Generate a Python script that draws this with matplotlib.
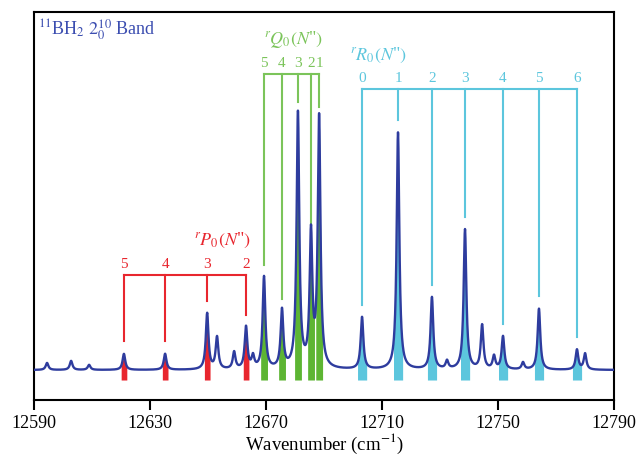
import numpy as np
import matplotlib
matplotlib.use('Agg')
import matplotlib.pyplot as plt

plt.rcParams['font.family'] = ['Liberation Serif', 'DejaVu Serif']
plt.rcParams['mathtext.fontset'] = 'stix'

# assigned lines: position (cm-1), peak height above baseline
p_labels = ['5', '4', '3', '2']
p_pos = [12621.0, 12635.2, 12649.7, 12663.1]
p_amp = [16, 16, 56, 42]

q_labels = ['5', '4', '3', '2', '1']
q_pos = [12669.3, 12675.5, 12681.0, 12685.5, 12688.3]
q_amp = [92, 58, 255, 132, 250]

r_labels = ['0', '1', '2', '3', '4', '5', '6']
r_pos = [12703.1, 12715.5, 12727.2, 12738.6, 12751.7, 12764.1, 12777.2]
r_amp = [52, 237, 72, 140, 33, 61, 20]

# unassigned features
other_pos = [12594.5, 12602.8, 12609.0, 12653.1, 12659.0, 12665.5, 12732.4,
             12744.5, 12748.6, 12758.6, 12780.0]
other_amp = [7, 9, 5, 32, 17, 12, 8, 44, 13, 7, 16]

baseline = 30
floor = 20
gap = 13


def spectrum(x):
    y = np.full_like(x, baseline, dtype=float)
    pos = p_pos + q_pos + r_pos + other_pos
    amp = p_amp + q_amp + r_amp + other_amp
    for c, a in zip(pos, amp):
        y += a / (1 + ((x - c) / 0.55) ** 2)
    return y


x = np.arange(12590, 12790.01, 0.05)
y = spectrum(x)

fig = plt.figure(figsize=(6.39, 4.59), dpi=100)
ax = fig.add_axes([0.0532, 0.1285, 0.9078, 0.8455])

red = '#E8262E'
green_line = '#7BC45A'
green_fill = '#5DB533'
cyan = '#5CC6DD'
blue = '#2E3C9E'


def branch(pos, amp, labels, line_c, fill_c, hw, top, title, tx, ty, ha):
    for c in pos:
        m = (x >= c - hw) & (x <= c + hw)
        ax.fill_between(x[m], floor, y[m], color=fill_c, lw=0, zorder=2)
    for c, a, lab in zip(pos, amp, labels):
        ax.plot([c, c], [top, baseline + a + gap], color=line_c, lw=1.5, zorder=1)
        ax.text(c, top + 4, lab, color=line_c, ha='center', va='bottom', fontsize=11)
    ax.plot([pos[0], pos[-1]], [top, top], color=line_c, lw=1.5, zorder=1)
    ax.text(tx, ty, title, color=line_c, ha=ha, va='center', fontsize=13)


branch(p_pos, p_amp, p_labels, red, red, 1.0, 125,
       r'$^{r}P_{0}(N$"$)$', 12654.8, 160, 'center')
branch(q_pos, q_amp, q_labels, green_line, green_fill, 1.2, 326,
       r'$^{r}Q_{0}(N$"$)$', 12679.3, 360, 'center')
branch(r_pos, r_amp, r_labels, cyan, cyan, 1.6, 311,
       r'$^{r}R_{0}(N$"$)$', 12699.0, 345, 'left')

ax.plot(x, y, color=blue, lw=1.7, zorder=3)

ax.text(12591.5, 370, r'$^{11}$BH$_2$ $2^{10}_{0}$ Band', color='#3B4DB0',
        ha='left', va='center', fontsize=13)

ax.set_xlim(12590, 12790)
ax.set_ylim(0, 388)
ax.set_xticks([12590, 12630, 12670, 12710, 12750, 12790])
ax.set_yticks([])
ax.tick_params(axis='x', direction='out', length=7, width=1.5, labelsize=13, pad=4)
for s in ax.spines.values():
    s.set_linewidth(1.5)
ax.set_xlabel('Wavenumber (cm$^{-1}$)', fontsize=13.5, labelpad=0)

plt.savefig('out.png', dpi=100)
plt.close()
